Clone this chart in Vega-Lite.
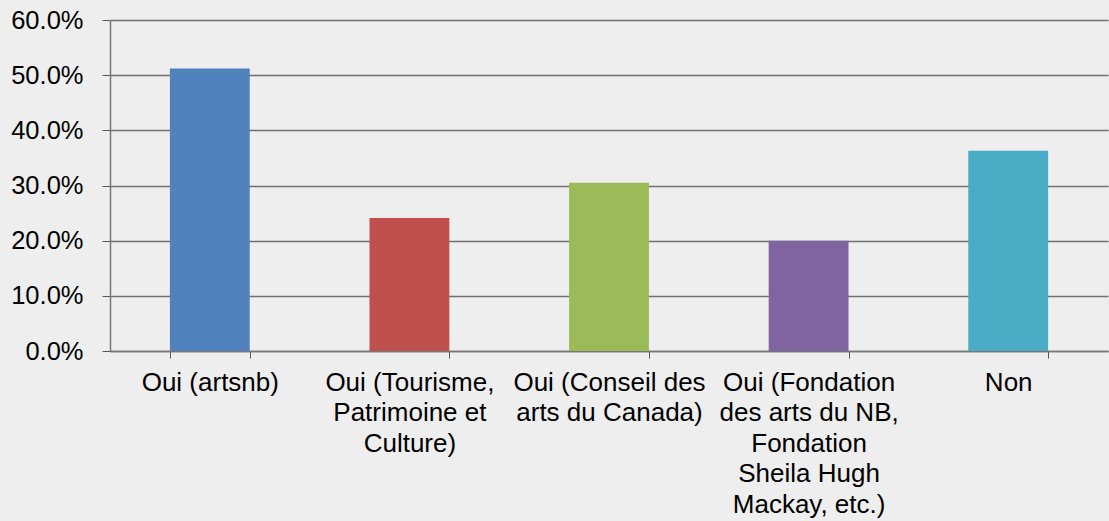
{
  "$schema": "https://vega.github.io/schema/vega-lite/v6.json",
  "width": 998,
  "height": 331,
  "autosize": "none",
  "padding": {"left": 110, "top": 20, "right": 1, "bottom": 170},
  "background": "#eeeeee",
  "config": {
    "view": {"stroke": null},
    "font": "Liberation Sans"
  },
  "data": {
    "values": [
      {"cat": "Oui (artsnb)", "value": 0.512, "color": "#4F81BD"},
      {"cat": "Oui (Tourisme,|Patrimoine et|Culture)", "value": 0.241, "color": "#C0504D"},
      {"cat": "Oui (Conseil des|arts du Canada)", "value": 0.305, "color": "#9BBB59"},
      {"cat": "Oui (Fondation|des arts du NB,|Fondation|Sheila Hugh|Mackay, etc.)", "value": 0.200, "color": "#8064A2"},
      {"cat": "Non", "value": 0.363, "color": "#4BACC6"}
    ]
  },
  "mark": {"type": "bar"},
  "encoding": {
    "x": {
      "field": "cat",
      "type": "nominal",
      "sort": null,
      "scale": {"paddingInner": 0.6, "paddingOuter": 0.3},
      "axis": {
        "title": null,
        "labelAngle": 0,
        "labelExpr": "split(datum.label, '|')",
        "labelFontSize": 26,
        "labelColor": "#000000",
        "labelLineHeight": 30.5,
        "labelPadding": 11,
        "labelLimit": 0,
        "tickBand": "extent",
        "tickSize": 7,
        "tickColor": "#555555",
        "domainColor": "#777777",
        "domainWidth": 1.5,
        "grid": false
      }
    },
    "y": {
      "field": "value",
      "type": "quantitative",
      "scale": {"domain": [0, 0.6], "nice": false},
      "axis": {
        "title": null,
        "format": ".1%",
        "values": [0, 0.1, 0.2, 0.3, 0.4, 0.5, 0.6],
        "labelFontSize": 25.5,
        "labelColor": "#000000",
        "labelPadding": 19,
        "tickSize": 8,
        "tickColor": "#555555",
        "domainColor": "#777777",
        "domainWidth": 1.5,
        "grid": true,
        "gridColor": "#707070",
        "gridWidth": 1.5
      }
    },
    "color": {"field": "color", "type": "nominal", "scale": null, "legend": null}
  }
}
